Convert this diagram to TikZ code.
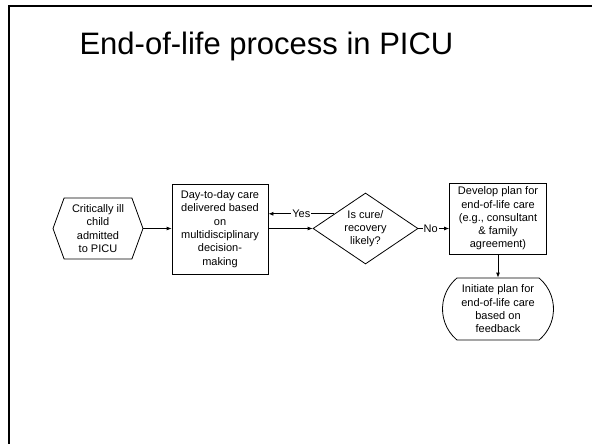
\documentclass[tikz,border=0pt]{standalone}
\usepackage{fontspec}
\setmainfont{Liberation Sans}
\usetikzlibrary{shapes.geometric,shapes.symbols,shapes.misc,arrows.meta,calc}

\begin{document}
\begin{tikzpicture}[%
  x=1pt,y=-1pt,
  every node/.style={font=\fontsize{11}{13.3}\selectfont,align=center,inner sep=0pt},
  start/.style={signal,signal to=west and east,signal pointer angle=140,draw,
    minimum width=90,minimum height=61},
  process/.style={rectangle,draw,minimum width=97,minimum height=71},
  decision/.style={diamond,draw,aspect=1.48,minimum width=105,minimum height=71},
  finish/.style={rounded rectangle,rounded rectangle arc length=100,draw,
    minimum width=111,minimum height=62},
  flow/.style={-{Latex[length=5pt,width=4pt]},line width=0.8pt},
  answer/.style={fill=white,inner sep=1pt},
  line width=0.8pt]
    \useasboundingbox (0,0) rectangle (592,444);
    % Slide frame
    \draw[line width=2pt] (8.7,444) -- (8.7,6.2) -- (592,6.2);
    \node[font=\fontsize{31}{36}\selectfont,anchor=base] (title) at (266.5,55)
      {End-of-life process in PICU};
    % Boxes
    \node[start] (admit) at (98,228.5) {Critically ill\\child\\admitted\\to PICU};
    \node[process,minimum width=96,minimum height=90] (care) at (220,229)
      {Day-to-day care\\delivered based\\on\\multidisciplinary\\decision-\\making};
    \node[decision] (cure) at (365.5,228.5) {Is cure/\\recovery\\likely?};
    \node[process] (plan) at (498,218.5)
      {Develop plan for\\end-of-life care\\(e.g., consultant\\\& family\\agreement)};
    \node[finish] (initiate) at (498,309)
      {Initiate plan for\\end-of-life care\\based on\\feedback};
    % Connectors
    \coordinate (yesend) at ($(cure.west)!0.41!(cure.north)$);
    \draw[flow] (admit.east) -- (admit.east -| care.west);
    \draw[flow] (care.east |- cure.west) -- (cure.west);
    \draw[flow] (yesend) -- (yesend -| care.east) node[answer,midway] {Yes};
    \draw[flow] (cure.east) -- (cure.east -| plan.west) node[answer,pos=0.4] {No};
    \draw[flow] (plan.south) -- (initiate.north);
\end{tikzpicture}
\end{document}
